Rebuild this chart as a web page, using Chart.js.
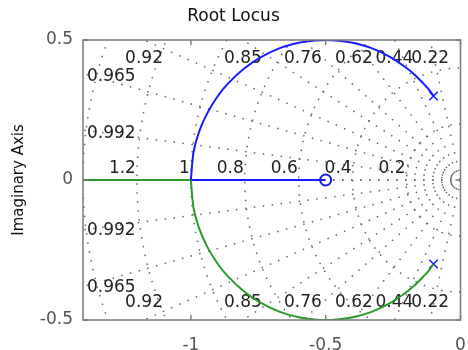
<!DOCTYPE html>
<html>
<head>
<meta charset="utf-8">
<script src="https://cdn.jsdelivr.net/npm/chart.js@4.4.1/dist/chart.umd.min.js"></script>
<style>
  html, body { margin: 0; padding: 0; background: #fff; }
  #wrap { width: 468px; height: 350px; }
</style>
</head>
<body>
<div id="wrap"><canvas id="rlocusChart"></canvas></div>
<script>
// open-loop poles and zeros
const poleX = [-0.1, -0.1];
const poleY = [0.3, -0.3];
const zeroX = [-0.5];
const zeroY = [0];

// complex branch (upper half, lower half is its mirror)
const arcX = [-0.1, -0.12, -0.14, -0.17, -0.2, -0.26, -0.33, -0.4, -0.45, -0.5, -0.55, -0.6, -0.67, -0.74, -0.8, -0.86, -0.9, -0.94, -0.97, -0.99, -1.0];
const arcY = [0.3, 0.326, 0.347, 0.376, 0.4, 0.439, 0.471, 0.49, 0.497, 0.5, 0.497, 0.49, 0.471, 0.439, 0.4, 0.347, 0.3, 0.237, 0.171, 0.1, 0];

// real-axis branches
const realBlueX = [-1.0, -0.5];
const realGreenX = [-1.0, -1.4];

// sgrid values
const dampingLines = [0.22, 0.44, 0.62, 0.76, 0.85, 0.92, 0.965, 0.992];
const freqCircles = [0.2, 0.4, 0.6, 0.8, 1, 1.2, 1.4];

// axes
const xTicks = [-1, -0.5, 0];
const yTicks = [-0.5, 0, 0.5];

const blue = '#1a1aff';
const green = '#2a9a2a';
const fontFam = '"DejaVu Sans", Verdana, sans-serif';
const labelFont = '17px ' + fontFam;

function pts(xs, ys) {
    return xs.map((x, i) => ({ x: x, y: ys[i] }));
}

// dotted damping rays + natural frequency circles
const sgridPlugin = {
    id: 'sgrid',
    beforeDatasetsDraw(chart) {
        const { ctx, chartArea: a, scales: { x, y } } = chart;
        const ox = x.getPixelForValue(0), oy = y.getPixelForValue(0);
        const kx = x.getPixelForValue(1) - ox;
        const ky = oy - y.getPixelForValue(1);
        ctx.save();
        ctx.beginPath();
        ctx.rect(a.left, a.top, a.right - a.left, a.bottom - a.top);
        ctx.clip();
        ctx.strokeStyle = '#666';
        ctx.lineWidth = 1.5;
        ctx.setLineDash([1.5, 7.5]);
        dampingLines.concat([1]).forEach(z => {
            const s = Math.sqrt(1 - z * z);
            [1, -1].forEach(sg => {
                ctx.beginPath();
                ctx.moveTo(ox, oy);
                ctx.lineTo(ox - z * 3 * kx, oy - sg * s * 3 * ky);
                ctx.stroke();
            });
        });
        freqCircles.forEach(w => {
            ctx.beginPath();
            ctx.ellipse(ox, oy, w * kx, w * ky, 0, Math.PI / 2, Math.PI * 1.5);
            ctx.stroke();
        });
        ctx.setLineDash([]);

        // labels
        ctx.fillStyle = '#222';
        ctx.font = labelFont;
        ctx.textBaseline = 'middle';
        dampingLines.forEach(z => {
            const s = Math.sqrt(1 - z * z);
            const xTop = -z * y.max / s;
            const txt = String(z);
            if (xTop >= x.min) {
                ctx.textAlign = 'center';
                const px = x.getPixelForValue(xTop);
                ctx.fillText(txt, px, a.top + 19);
                ctx.fillText(txt, px, a.bottom - 17);
            } else {
                const im = -x.min * s / z;
                ctx.textAlign = 'left';
                ctx.fillText(txt, a.left + 4, y.getPixelForValue(im) + 3);
                ctx.fillText(txt, a.left + 4, y.getPixelForValue(-im) + 1);
            }
        });
        ctx.textAlign = 'right';
        ctx.textBaseline = 'alphabetic';
        freqCircles.forEach(w => {
            ctx.fillText(String(w), x.getPixelForValue(-w) - 1, oy - 7);
        });
        ctx.restore();
    }
};

// box with inward ticks
const framePlugin = {
    id: 'frame',
    afterDraw(chart) {
        const { ctx, chartArea: a, scales: { x, y } } = chart;
        ctx.save();
        ctx.strokeStyle = '#7a7a7a';
        ctx.lineWidth = 1.5;
        ctx.strokeRect(a.left, a.top, a.right - a.left, a.bottom - a.top);
        ctx.beginPath();
        xTicks.forEach(v => {
            const px = x.getPixelForValue(v);
            ctx.moveTo(px, a.top); ctx.lineTo(px, a.top + 5);
            ctx.moveTo(px, a.bottom); ctx.lineTo(px, a.bottom - 5);
        });
        yTicks.forEach(v => {
            const py = y.getPixelForValue(v);
            ctx.moveTo(a.left, py); ctx.lineTo(a.left + 5, py);
            ctx.moveTo(a.right, py); ctx.lineTo(a.right - 5, py);
        });
        ctx.stroke();
        ctx.restore();
    }
};

const ctx = document.getElementById('rlocusChart').getContext('2d');
const rlocusChart = new Chart(ctx, {
    type: 'scatter',
    data: {
        datasets: [
            {
                data: pts(arcX, arcY),
                showLine: true, borderColor: blue, borderWidth: 2,
                pointRadius: 0, tension: 0.3
            },
            {
                data: pts(arcX, arcY.map(v => -v)),
                showLine: true, borderColor: green, borderWidth: 2,
                pointRadius: 0, tension: 0.3
            },
            {
                data: realBlueX.map(v => ({ x: v, y: 0 })),
                showLine: true, borderColor: blue, borderWidth: 2, pointRadius: 0
            },
            {
                data: realGreenX.map(v => ({ x: v, y: 0 })),
                showLine: true, borderColor: green, borderWidth: 2, pointRadius: 0
            },
            {
                data: pts(poleX, poleY),
                showLine: false, pointStyle: 'crossRot', pointRadius: 6,
                borderColor: blue, borderWidth: 1.5
            },
            {
                data: pts(zeroX, zeroY),
                showLine: false, pointStyle: 'circle', pointRadius: 5.5,
                borderColor: blue, backgroundColor: '#fff', borderWidth: 2
            }
        ]
    },
    options: {
        responsive: true,
        maintainAspectRatio: false,
        animation: false,
        layout: { padding: { left: 0, right: 1, top: 0, bottom: 0 } },
        plugins: {
            legend: { display: false },
            tooltip: { enabled: false },
            title: {
                display: true,
                text: 'Root Locus',
                color: '#111',
                font: { family: fontFam, size: 17, weight: 'normal', lineHeight: 1.2 },
                padding: { top: 6, bottom: 13.6 }
            }
        },
        scales: {
            x: {
                type: 'linear',
                min: -1.4,
                max: 0,
                grid: { display: false, drawTicks: false },
                border: { display: false },
                afterBuildTicks: s => { s.ticks = xTicks.map(v => ({ value: v })); },
                afterFit: s => { s.height = 30; s.paddingLeft = 0; s.paddingRight = 0; },
                ticks: {
                    color: '#555',
                    padding: 15,
                    maxRotation: 0,
                    font: { family: fontFam, size: 17 },
                    callback: v => String(v)
                }
            },
            y: {
                type: 'linear',
                min: -0.5,
                max: 0.5,
                grid: { display: false, drawTicks: false },
                border: { display: false },
                afterBuildTicks: s => { s.ticks = yTicks.map(v => ({ value: v })); },
                afterFit: s => { s.width = 83; s.paddingTop = 0; s.paddingBottom = 0; },
                ticks: {
                    color: '#555',
                    padding: 10,
                    font: { family: fontFam, size: 17 },
                    callback: v => String(v)
                },
                title: {
                    display: true,
                    text: 'Imaginary Axis',
                    color: '#111',
                    padding: { top: 10, bottom: 0 },
                    font: { family: fontFam, size: 15, lineHeight: 1.2 }
                }
            }
        }
    },
    plugins: [sgridPlugin, framePlugin]
});
</script>
</body>
</html>
